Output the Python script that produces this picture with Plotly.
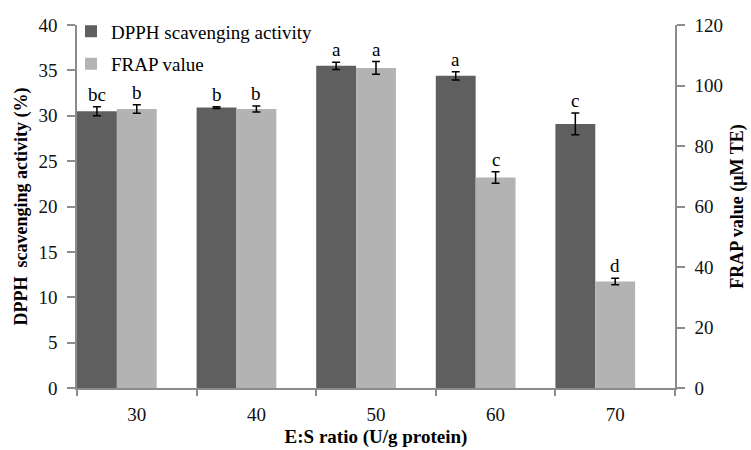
import plotly.graph_objects as go

# E:S ratio groups
ratios = ["30", "40", "50", "60", "70"]
dpph = [30.5, 30.9, 35.5, 34.4, 29.1]
dpph_err = [0.5, 0.1, 0.4, 0.45, 1.2]
dpph_letters = ["bc", "b", "a", "a", "c"]
frap = [92.2, 92.2, 105.8, 69.6, 35.2]
frap_err = [1.4, 1.0, 2.1, 1.9, 1.1]
frap_letters = ["b", "b", "a", "c", "d"]

left_ticks = [0, 5, 10, 15, 20, 25, 30, 35, 40]
right_ticks = [0, 20, 40, 60, 80, 100, 120]

FONT = "Liberation Serif"
DARK = "#5f5f5f"
LIGHT = "#b3b3b3"
AXIS = "#8c8c8c"
TXT = "#111111"

idx = list(range(len(ratios)))

fig = go.Figure()
fig.add_trace(go.Bar(
    x=idx, y=dpph, name="DPPH scavenging activity",
    width=1/3, offset=-0.5, marker=dict(color=DARK, line=dict(width=0)),
    error_y=dict(type="data", array=dpph_err, color="black", thickness=1.5, width=4),
    yaxis="y", legendgroup="a",
))
fig.add_trace(go.Bar(
    x=idx, y=frap, name="FRAP value",
    width=1/3, offset=-1/6, marker=dict(color=LIGHT, line=dict(width=0)),
    error_y=dict(type="data", array=frap_err, color="black", thickness=1.5, width=4),
    yaxis="y2", legendgroup="b",
))

# significance letters above the error bars
for i, (v, e, t) in enumerate(zip(dpph, dpph_err, dpph_letters)):
    fig.add_annotation(x=i - 1/3, y=v + e, yref="y", text=t, showarrow=False,
                       yanchor="bottom", yshift=0, font=dict(family=FONT, size=19, color="black"))
for i, (v, e, t) in enumerate(zip(frap, frap_err, frap_letters)):
    fig.add_annotation(x=i, y=v + e, yref="y2", text=t, showarrow=False,
                       yanchor="bottom", yshift=0, font=dict(family=FONT, size=19, color="black"))

fig.update_layout(
    width=751, height=450,
    margin=dict(l=77, r=76, t=23, b=62),
    plot_bgcolor="white", paper_bgcolor="white",
    barmode="overlay",
    font=dict(family=FONT, size=19, color=TXT),
    showlegend=True,
    legend=dict(x=-0.01, y=1.035, xanchor="left", yanchor="top",
                bgcolor="rgba(0,0,0,0)", font=dict(family=FONT, size=19, color="black"),
                tracegroupgap=5, itemwidth=30),
    xaxis=dict(
        range=[-0.5, 4.5], tickvals=idx, ticktext=ratios, ticks="",
        showline=True, linecolor=AXIS, linewidth=1.5, showgrid=False, zeroline=False,
        minor=dict(tickvals=[i - 0.5 for i in range(len(ratios) + 1)], ticks="outside",
                   ticklen=6, tickcolor=AXIS, tickwidth=1.5, showgrid=False),
        ticklabelstandoff=8, automargin=False,
        title=dict(text="<b>E:S ratio (U/g protein)</b>", font=dict(family=FONT, size=19, color="black"),
                   standoff=6),
        tickfont=dict(family=FONT, size=19, color=TXT),
    ),
    yaxis=dict(
        range=[0, 40], tickvals=left_ticks, ticks="outside", ticklen=8, tickcolor=AXIS, tickwidth=1.5,
        showline=True, linecolor=AXIS, linewidth=1.5, showgrid=False, zeroline=False,
        ticklabelstandoff=6, automargin=False,
        title=dict(text="<b>DPPH  scavenging activity (%)</b>", font=dict(family=FONT, size=18, color="black"),
                   standoff=6),
        tickfont=dict(family=FONT, size=19, color=TXT),
    ),
    yaxis2=dict(
        range=[0, 120], tickvals=right_ticks, overlaying="y", side="right",
        ticks="outside", ticklen=8, tickcolor=AXIS, tickwidth=1.5,
        showline=True, linecolor=AXIS, linewidth=1.5, showgrid=False, zeroline=False,
        ticklabelstandoff=6, automargin=False,
        title=dict(text="<b>FRAP value (μM TE)</b>", font=dict(family=FONT, size=18, color="black"),
                   standoff=8),
        tickfont=dict(family=FONT, size=19, color=TXT),
    ),
)

fig.write_html("out.html")
